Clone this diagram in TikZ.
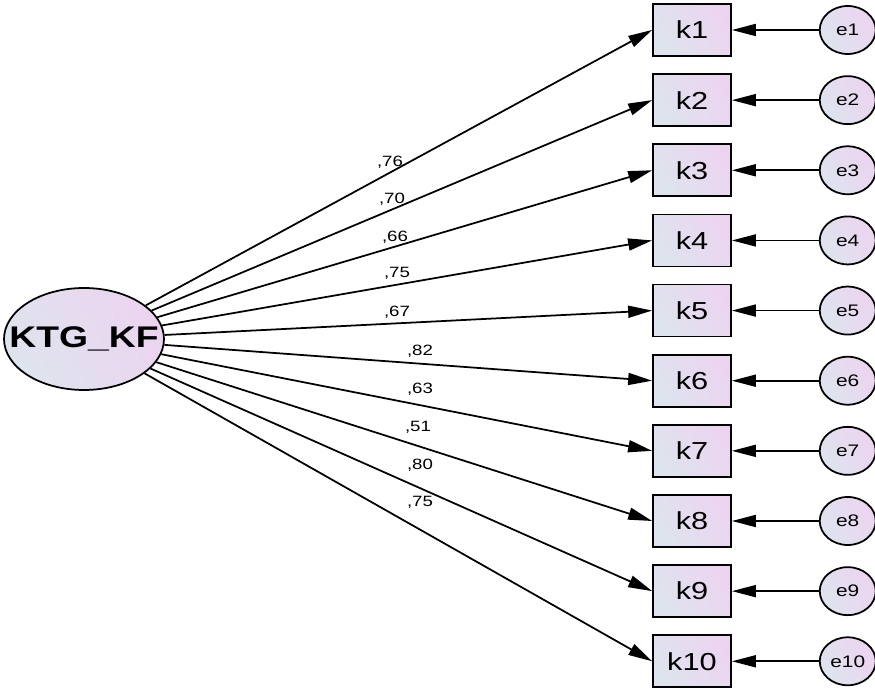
\documentclass[tikz,border=0pt]{standalone}
\usepackage{fontspec}
\setmainfont{Liberation Sans}[FakeStretch=1.25]
\usepackage{xcolor}
\usetikzlibrary{arrows.meta,positioning,shapes.geometric}

\definecolor{fillblue}{HTML}{DEE4EE}
\definecolor{fillpink}{HTML}{ECD4F0}

\begin{document}
\begin{tikzpicture}[
    x=0.02cm, y=-0.02cm,
    shaded/.style={
        draw, line width=1pt,
        left color=fillblue, right color=fillpink, shading angle=120
    },
    latent/.style={
        shaded, ellipse, inner xsep=-0.5cm, inner ysep=0pt,
        minimum width=3.2cm, minimum height=2.04cm,
        font=\fontsize{17}{20}\selectfont\bfseries
    },
    obs/.style={
        shaded, rectangle, inner sep=0pt,
        minimum width=1.56cm, minimum height=1.04cm,
        font=\fontsize{14}{16}\selectfont
    },
    err/.style={
        shaded, ellipse, inner sep=0pt,
        minimum width=1.12cm, minimum height=0.96cm,
        font=\fontsize{9.5}{11}\selectfont
    },
    coef/.style={font=\fontsize{8.5}{10}\selectfont, inner sep=0pt},
    arrow/.style={-{Triangle[length=0.48cm, width=0.24cm]}, line width=1pt}
]
\useasboundingbox (0,0) rectangle (875,688);

\node[latent] (kf) at (84,339) {KTG\_KF};

\node[obs] (k1) at (692,30) {k1};
\node[obs, below=0.328cm of k1] (k2) {k2};
\node[obs, below=0.328cm of k2] (k3) {k3};
\node[obs, below=0.328cm of k3] (k4) {k4};
\node[obs, below=0.328cm of k4] (k5) {k5};
\node[obs, below=0.328cm of k5] (k6) {k6};
\node[obs, below=0.328cm of k6] (k7) {k7};
\node[obs, below=0.328cm of k7] (k8) {k8};
\node[obs, below=0.328cm of k8] (k9) {k9};
\node[obs, below=0.328cm of k9] (k10) {k10};

\node[err, right=1.74cm of k1] (e1) {e1};
\node[err, right=1.74cm of k2] (e2) {e2};
\node[err, right=1.74cm of k3] (e3) {e3};
\node[err, right=1.74cm of k4] (e4) {e4};
\node[err, right=1.74cm of k5] (e5) {e5};
\node[err, right=1.74cm of k6] (e6) {e6};
\node[err, right=1.74cm of k7] (e7) {e7};
\node[err, right=1.74cm of k8] (e8) {e8};
\node[err, right=1.74cm of k9] (e9) {e9};
\node[err, right=1.74cm of k10] (e10) {e10};

\draw[arrow] (kf) -- (k1.west);
\draw[arrow] (kf) -- (k2.west);
\draw[arrow] (kf) -- (k3.west);
\draw[arrow] (kf) -- (k4.west);
\draw[arrow] (kf) -- (k5.west);
\draw[arrow] (kf) -- (k6.west);
\draw[arrow] (kf) -- (k7.west);
\draw[arrow] (kf) -- (k8.west);
\draw[arrow] (kf) -- (k9.west);
\draw[arrow] (kf) -- (k10.west);

\draw[arrow] (e1) -- (k1);
\draw[arrow] (e2) -- (k2);
\draw[arrow] (e3) -- (k3);
\draw[arrow] (e4) -- (k4);
\draw[arrow] (e5) -- (k5);
\draw[arrow] (e6) -- (k6);
\draw[arrow] (e7) -- (k7);
\draw[arrow] (e8) -- (k8);
\draw[arrow] (e9) -- (k9);
\draw[arrow] (e10) -- (k10);

% loadings
\node[coef] (l1) at (390,162) {,76};
\node[coef] (l2) at (392,199) {,70};
\node[coef] (l3) at (395,237) {,66};
\node[coef] (l4) at (397,273) {,75};
\node[coef] (l5) at (397,312) {,67};
\node[coef] (l6) at (420,351) {,82};
\node[coef] (l7) at (420,389) {,63};
\node[coef] (l8) at (418,427) {,51};
\node[coef] (l9) at (420,465) {,80};
\node[coef] (l10) at (420,502) {,75};
\end{tikzpicture}
\end{document}
